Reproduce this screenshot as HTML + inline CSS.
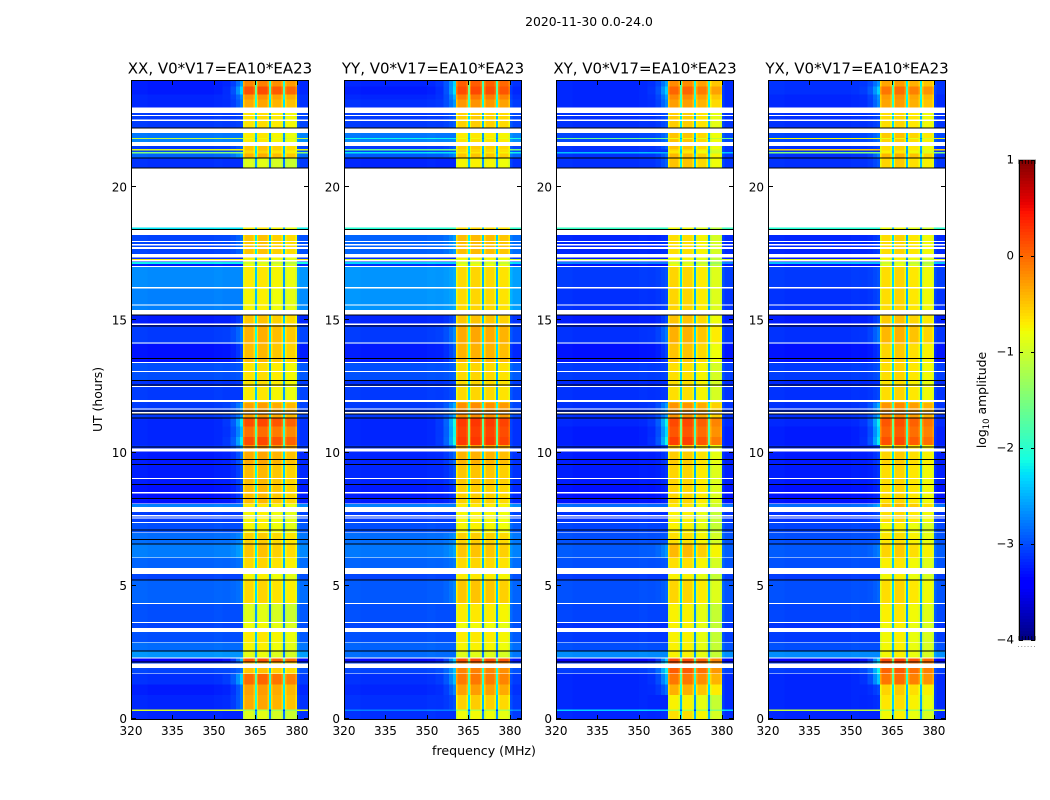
<!DOCTYPE html>
<html lang="en">
<head>
<meta charset="utf-8">
<title>2020-11-30 amplitude waterfall</title>
<style>
html,body{margin:0;padding:0;background:#fff;}
svg{display:block;}
text{font-family:"DejaVu Sans","Liberation Sans",sans-serif;fill:#000;}
</style>
</head>
<body>
<svg id="fig" xmlns="http://www.w3.org/2000/svg" width="1050" height="800" viewBox="0 0 1050 800">
  <rect x="0" y="0" width="1050" height="800" fill="#fff"/>
  <text x="589" y="26" font-size="12.4" text-anchor="middle">2020-11-30 0.0-24.0</text>
  <text x="484" y="755" font-size="12.6" text-anchor="middle">frequency (MHz)</text>
  <text transform="translate(102,399.5) rotate(-90)" font-size="12.4" text-anchor="middle">UT (hours)</text>
  <text transform="translate(986,400) rotate(-90)" font-size="12.4" text-anchor="middle">log<tspan font-size="8.5" dy="3">10</tspan><tspan dy="-3"> amplitude</tspan></text>
  <g id="panels"></g>
  <g id="colorbar"></g>
</svg>
<script>
// ---- chart data ----
const panelTitles = ["XX, V0*V17=EA10*EA23","YY, V0*V17=EA10*EA23","XY, V0*V17=EA10*EA23","YX, V0*V17=EA10*EA23"];
const panelIds = ["xx","yy","xy","yx"];
const freqTicks = [320,335,350,365,380];
const hourTicks = [0,5,10,15,20];
const colorbarTicks = [1,0,-1,-2,-3,-4];

// frequency channel boundaries (MHz)
const freqEdges = [320,326,332,338,344,350,353,356,358,359.5,360.5,361,364.3,364.8,365.5,366,369.4,369.9,370.7,371.2,374.5,375,375.7,376.2,379.5,380,381,384];
// 0 = off-band, 1 = band-edge glow, 2 = in-band
const channelKind = [0,0,0,0,0,0,1,1,1,1,2,2,2,2,2,2,2,2,2,2,2,2,2,2,2,0,0];
// per-channel log-amplitude offsets
const shapeXX = [.02,0,0,0,0,.02,.08,.25,.55,.9,-.25,0,-.2,-1.7,-.25,.03,-.2,-1.9,-.25,-.05,-.25,-1.9,-.3,-.12,-.3,.15,.06];
const shapeYY = [.02,0,0,0,0,.02,.08,.25,.55,.9,-.25,0,-.2,-1.7,-.25,.02,-.2,-1.9,-.25,0,-.2,-1.9,-.25,-.05,-.25,.15,.06];
const shapeXY = [.02,0,0,0,0,.02,.08,.25,.6,.95,-.25,.02,-.2,-1.7,-.25,.02,-.2,-1.9,-.3,-.1,-.3,-1.9,-.5,-.3,-.45,.12,.03];
const shapeYX = [.02,0,0,0,0,.02,.08,.25,.6,.95,-.3,-.02,-.2,-1.7,-.25,.03,-.2,-1.9,-.3,-.08,-.25,-1.9,-.4,-.18,-.35,.12,.03];

// time-segment boundaries (hours UT)
const hourEdges = [0,.30,.36,.9,1.3,1.72,2.14,2.27,2.55,2.87,
  3.27,3.65,4.36,5.22,5.46,6.07,6.6,7.0,7.4,7.8,
  8.1,8.83,9.6,10.07,10.3,10.6,11.0,11.3,11.9,12.5,
  12.75,13.4,14.1,14.8,15.2,16.2,17.0,17.12,17.2,17.27,
  17.3,17.36,18.21,18.41,18.49,20.73,21.1,21.27,21.32,21.38,
  21.44,21.71,21.82,21.86,22.23,22.8,23.3,23.5,23.8,24];

// off-band level per time segment (log10 amplitude)
const offBandXX = [-3.2,-.95,-3.2,-3.25,-3.15,-3.05,-3.4,-2.65,-2.85,-3.0,
  -3.05,-3.0,-2.9,-3.05,-2.9,-2.77,-2.85,-3.0,-3.1,-2.75,
  -3.3,-3.25,-3.25,-3.15,-3.2,-3.2,-3.2,-3.1,-3.1,-3.15,
  -3.0,-3.3,-3.1,-3.25,-2.75,-2.7,-3.25,-2.2,-3.15,-.7,
  -3.15,-3.05,-3.05,-2.25,-3.15,-3.15,-2.9,-1.5,-3.05,-.9,
  -3.1,-2.75,-1.1,-2.8,-3.1,-3.2,-3.2,-3.25,-3.25];
const offBandYY = [-3.15,-2.75,-3.15,-3.2,-3.15,-3.05,-3.35,-2.85,-2.9,-3.0,
  -3.05,-3.0,-2.95,-3.05,-2.9,-2.8,-2.85,-3.0,-3.1,-2.75,
  -3.25,-3.2,-3.2,-3.15,-3.2,-3.2,-3.2,-3.1,-3.1,-3.15,
  -3.0,-3.25,-3.1,-3.2,-2.65,-2.65,-3.15,-2.35,-3.15,-1.0,
  -3.15,-2.9,-2.95,-2.05,-3.15,-3.2,-2.95,-2.25,-3.05,-1.6,
  -3.1,-2.75,-2.15,-2.8,-3.1,-3.15,-3.2,-3.25,-3.2];
const offBandXY = [-3.2,-2.35,-3.2,-3.2,-3.2,-3.1,-3.4,-2.7,-3.0,-3.1,
  -3.15,-3.05,-3.0,-3.1,-3.0,-2.95,-3.0,-3.05,-3.15,-2.85,
  -3.3,-3.25,-3.25,-3.2,-3.25,-3.25,-3.2,-3.15,-3.15,-3.2,
  -3.1,-3.3,-3.15,-3.25,-3.15,-3.1,-3.3,-2.75,-3.25,-1.0,
  -3.25,-3.2,-3.2,-1.95,-3.15,-3.15,-3.15,-2.45,-3.15,-3.15,
  -3.15,-3.05,-1.6,-3.05,-3.15,-3.2,-3.2,-3.2,-3.2];
const offBandYX = [-3.2,-1.1,-3.2,-3.2,-3.2,-3.1,-3.4,-2.7,-3.0,-3.1,
  -3.15,-3.05,-3.0,-3.1,-3.0,-2.95,-3.0,-3.05,-3.15,-2.85,
  -3.3,-3.25,-3.25,-3.2,-3.25,-3.25,-3.2,-3.15,-3.15,-3.2,
  -3.1,-3.3,-3.15,-3.25,-3.15,-3.1,-3.3,-2.45,-3.25,-.9,
  -3.25,-3.2,-3.2,-2.05,-3.15,-3.15,-3.15,-1.5,-3.15,-.6,
  -3.15,-3.05,-.8,-3.05,-3.15,-3.2,-3.2,-3.15,-3.15];

// in-band level per time segment (log10 amplitude)
const inBandXX = [-.9,-1.2,-.35,-.3,-.02,-.5,.1,-.85,-.75,-.7,
  -.8,-.9,-.6,-.75,-.6,-.5,-.55,-.75,-.75,-.7,
  -.45,-.45,-.35,-.2,.15,-.05,.15,-.3,-.7,-.65,
  -.65,-.45,-.4,-.5,-.75,-.7,-.8,-1.0,-.7,-.8,
  -.7,-.5,-.5,-.7,-1.0,-.9,-.4,-.6,-.6,-.5,
  -.5,-.7,-.8,-.7,-.65,-.35,-.25,.12,-.15];
const inBandYY = [-.8,-1.2,-.55,-.3,-.1,-.15,.15,-.9,-.75,-.7,
  -.8,-.7,-.5,-.7,-.6,-.5,-.55,-.75,-.75,-.7,
  -.55,-.5,-.4,-.3,.25,.2,.25,-.2,-.6,-.6,
  -.6,-.4,-.35,-.5,-.6,-.6,-.8,-1.0,-.7,-.8,
  -.7,-.45,-.5,-.6,-1.0,-.75,-.5,-.7,-.6,-.6,
  -.55,-.65,-.8,-.7,-.55,-.25,-.1,.15,.05];
const inBandXY = [-.65,-1.2,-.75,-.4,-.1,.05,.15,-.75,-.75,-.75,
  -.75,-.75,-.6,-.75,-.65,-.45,-.65,-.75,-.75,-.7,
  -.6,-.6,-.55,-.5,.2,.08,.15,-.25,-.65,-.65,
  -.65,-.5,-.4,-.5,-.6,-.6,-.8,-1.0,-.7,-.8,
  -.75,-.65,-.6,-.8,-1.0,-.5,-.45,-.7,-.7,-.6,
  -.5,-.5,-.8,-.5,-.55,-.3,-.2,.0,-.2];
const inBandYX = [-.75,-1.2,-.65,-.55,-.05,.05,.2,-.75,-.75,-.75,
  -.75,-.7,-.6,-.75,-.7,-.55,-.65,-.75,-.6,-.45,
  -.6,-.6,-.55,-.55,.15,.05,.12,-.2,-.6,-.65,
  -.6,-.55,-.4,-.5,-.6,-.6,-.85,-1.0,-.7,-.8,
  -.7,-.6,-.6,-.8,-1.0,-.55,-.4,-.7,-.7,-.6,
  -.6,-.55,-.8,-.5,-.6,-.3,-.25,-.05,-.3];

const offBandByPanel = [offBandXX,offBandYY,offBandXY,offBandYX];
const inBandByPanel = [inBandXX,inBandYY,inBandXY,inBandYX];
const shapeByPanel = [shapeXX,shapeYY,shapeXY,shapeYX];

// flagged (blank) time ranges, hours UT
const flaggedStart = [1.69,1.92,2.27,2.87,3.27,3.62,4.33,5.46,6.05,6.99,7.37,7.54,7.62,7.79,8.08,8.49,9.02,10.07,11.50,11.64,11.93,12.49,13.05,13.39,14.13,14.82,15.22,15.56,16.20,17.0,17.21,17.36,17.68,17.82,17.95,18.21,18.49,21.56,22.05,22.50,22.69,22.80];
const flaggedEnd = [1.72,2.08,2.32,2.90,3.42,3.65,4.36,5.68,6.08,7.02,7.41,7.58,7.67,7.98,8.11,8.53,9.06,10.17,11.55,11.68,12.0,12.52,13.09,13.43,14.16,14.88,15.39,15.59,16.25,17.04,17.27,17.49,17.76,17.87,17.98,18.40,20.73,21.71,22.22,22.55,22.73,23.01];
// very low amplitude scans (drawn dark), hours UT
const darkScans = [2.14,2.55,5.22,6.58,6.76,7.11,8.30,8.83,9.58,9.77,10.24,11.32,11.47,11.59,12.57,12.73,13.56,14.78,15.20,18.41,20.73,21.10,22.23];

const colorbarSteps = 160;

// ---- layout ----
const SVGNS = "http://www.w3.org/2000/svg";
const panelLeft = [131,344,556,768];
const panelWidth = 177, plotTop = 81, plotBottom = 719;
const freqMin = 320, freqMax = 384, hourMin = 0, hourMax = 24;
const cbLeft = 1019, cbRight = 1035, cbTop = 160, cbBottom = 640, ampMin = -4, ampMax = 1;

function xScale(p, f){ return panelLeft[p] + (f - freqMin) / (freqMax - freqMin) * panelWidth; }
function yScale(h){ return plotBottom - (h - hourMin) / (hourMax - hourMin) * (plotBottom - plotTop); }
function cbScale(v){ return cbBottom - (v - ampMin) / (ampMax - ampMin) * (cbBottom - cbTop); }

function ramp(t, pts){
  if (t <= pts[0][0]) return pts[0][1];
  for (let i = 1; i < pts.length; i++){
    if (t <= pts[i][0]){
      const a = pts[i-1], b = pts[i];
      return a[1] + (b[1] - a[1]) * (t - a[0]) / (b[0] - a[0]);
    }
  }
  return pts[pts.length-1][1];
}
function jet(v){
  const t = Math.max(0, Math.min(1, (v - ampMin) / (ampMax - ampMin)));
  const r = ramp(t, [[0,0],[.35,0],[.66,1],[.89,1],[1,.5]]);
  const g = ramp(t, [[0,0],[.125,0],[.375,1],[.64,1],[.91,0],[1,0]]);
  const b = ramp(t, [[0,.5],[.11,1],[.34,1],[.65,0],[1,0]]);
  return "rgb(" + Math.round(r*255) + "," + Math.round(g*255) + "," + Math.round(b*255) + ")";
}
function make(parent, tag, attrs){
  const el = document.createElementNS(SVGNS, tag);
  for (const k in attrs) el.setAttribute(k, attrs[k]);
  parent.appendChild(el);
  return el;
}
function levelAt(p, s, c){
  const bg = offBandByPanel[p][s], band = inBandByPanel[p][s], sh = shapeByPanel[p][c], kind = channelKind[c];
  if (kind === 2) return band + sh;
  if (kind === 1) return bg + sh * Math.max(0, band + .7) * 1.3;
  return bg + sh;
}

const panelsG = document.getElementById("panels");
panelTitles.forEach(function(title, p){
  const g = make(panelsG, "g", {});
  
  

  const cells = make(g, "g", {"shape-rendering":"crispEdges"});
  
  
  for (let s = 0; s < hourEdges.length - 1; s++){
    for (let c = 0; c < freqEdges.length - 1; c++){
      const x0 = xScale(p, freqEdges[c]), x1 = xScale(p, freqEdges[c+1]);
      const y0 = yScale(hourEdges[s+1]), y1 = yScale(hourEdges[s]);
      const cell = make(cells, "rect", {x:x0, y:y0, width:x1-x0, height:y1-y0, fill:jet(levelAt(p,s,c))});
      
      
    }
  }
  flaggedStart.forEach(function(h, i){
    const y0 = yScale(flaggedEnd[i]), y1 = yScale(h);
    const gap = make(cells, "rect", {x:panelLeft[p], y:y0, width:panelWidth, height:y1-y0, fill:"#fff"});
    
    
  });
  darkScans.forEach(function(h){
    const y0 = yScale(h);
    const dark = make(cells, "rect", {x:panelLeft[p], y:y0 - .5, width:panelWidth, height:1, fill:"#000"});
    
    
  });

  const L = panelLeft[p], R = L + panelWidth;
  const frame = make(g, "rect", {x:L+.5, y:plotTop-.5, width:panelWidth, height:plotBottom-plotTop+1, fill:"none", stroke:"#000", "stroke-width":1, "shape-rendering":"crispEdges"});
  
  

  freqTicks.forEach(function(f){
    const x = Math.round(xScale(p, f)) + .5;
    const tb = make(g, "path", {d:"M"+x+" "+plotBottom+"V"+(plotBottom-4)+"M"+x+" "+plotTop+"V"+(plotTop+4), stroke:"#000", "stroke-width":1, fill:"none"});
    
    
    const lab = make(g, "text", {x:xScale(p, f), y:plotBottom+16, "font-size":12, "text-anchor":"middle"});
    lab.textContent = String(f);
    
    
  });
  hourTicks.forEach(function(h){
    const y = Math.round(yScale(h)) - .5;
    const tl = make(g, "path", {d:"M"+L+" "+y+"H"+(L+5)+"M"+(R+1)+" "+y+"H"+(R-4), stroke:"#000", "stroke-width":1, fill:"none"});
    
    
    const lab = make(g, "text", {x:L-4, y:yScale(h)+4, "font-size":12, "text-anchor":"end"});
    lab.textContent = String(h);
    
    
  });
  const t = make(g, "text", {x:L+panelWidth/2+.5, y:73.5, "font-size":15, "text-anchor":"middle"});
  t.textContent = title;
  
  
});

// colorbar
const cbG = document.getElementById("colorbar");
const cbCells = make(cbG, "g", {"shape-rendering":"crispEdges"});


for (let i = 0; i < colorbarSteps; i++){
  const lo = ampMin + (ampMax - ampMin) * i / colorbarSteps;
  const hi = ampMin + (ampMax - ampMin) * (i + 1) / colorbarSteps;
  const seg = make(cbCells, "rect", {x:cbLeft, y:cbScale(hi), width:cbRight-cbLeft, height:cbScale(lo)-cbScale(hi), fill:jet((lo+hi)/2)});
  
  
}
const cbOuter = make(cbG, "rect", {x:cbLeft-.5, y:cbTop-.5, width:cbRight-cbLeft+1, height:cbBottom-cbTop+1, fill:"none", stroke:"#c4c4c4", "stroke-width":1, "shape-rendering":"crispEdges"});


const cbInner = make(cbG, "path", {d:"M"+(cbLeft+.5)+" "+cbTop+"V"+cbBottom+"M"+(cbRight-.5)+" "+cbTop+"V"+cbBottom, stroke:"#000", "stroke-width":1, fill:"none"});


colorbarTicks.forEach(function(v){
  const y = Math.round(cbScale(v)) + .5;
  const tk = make(cbG, "path", {d:"M"+cbLeft+" "+y+"H"+(cbLeft+4)+"M"+cbRight+" "+y+"H"+(cbRight-4), stroke:"#000", "stroke-width":1, fill:"none"});
  
  
  const lab = make(cbG, "text", {x:cbLeft-5, y:cbScale(v)+3.5, "font-size":11.8, "text-anchor":"end"});
  lab.textContent = v < 0 ? "\u2212" + Math.abs(v) : String(v);
  
  
});
for (let i = 0; i < 6; i++){
  const x = cbLeft + i * (cbRight - cbLeft) / 5;
  const up = make(cbG, "path", {d:"M"+x+" "+cbTop+"v4M"+x+" "+cbBottom+"v-4", stroke:"#000", "stroke-width":.7, fill:"none"});
  
  
  const dot = make(cbG, "rect", {x:x-1, y:646, width:1, height:1, fill:"#999"});
  
  
}
</script>
</body>
</html>
